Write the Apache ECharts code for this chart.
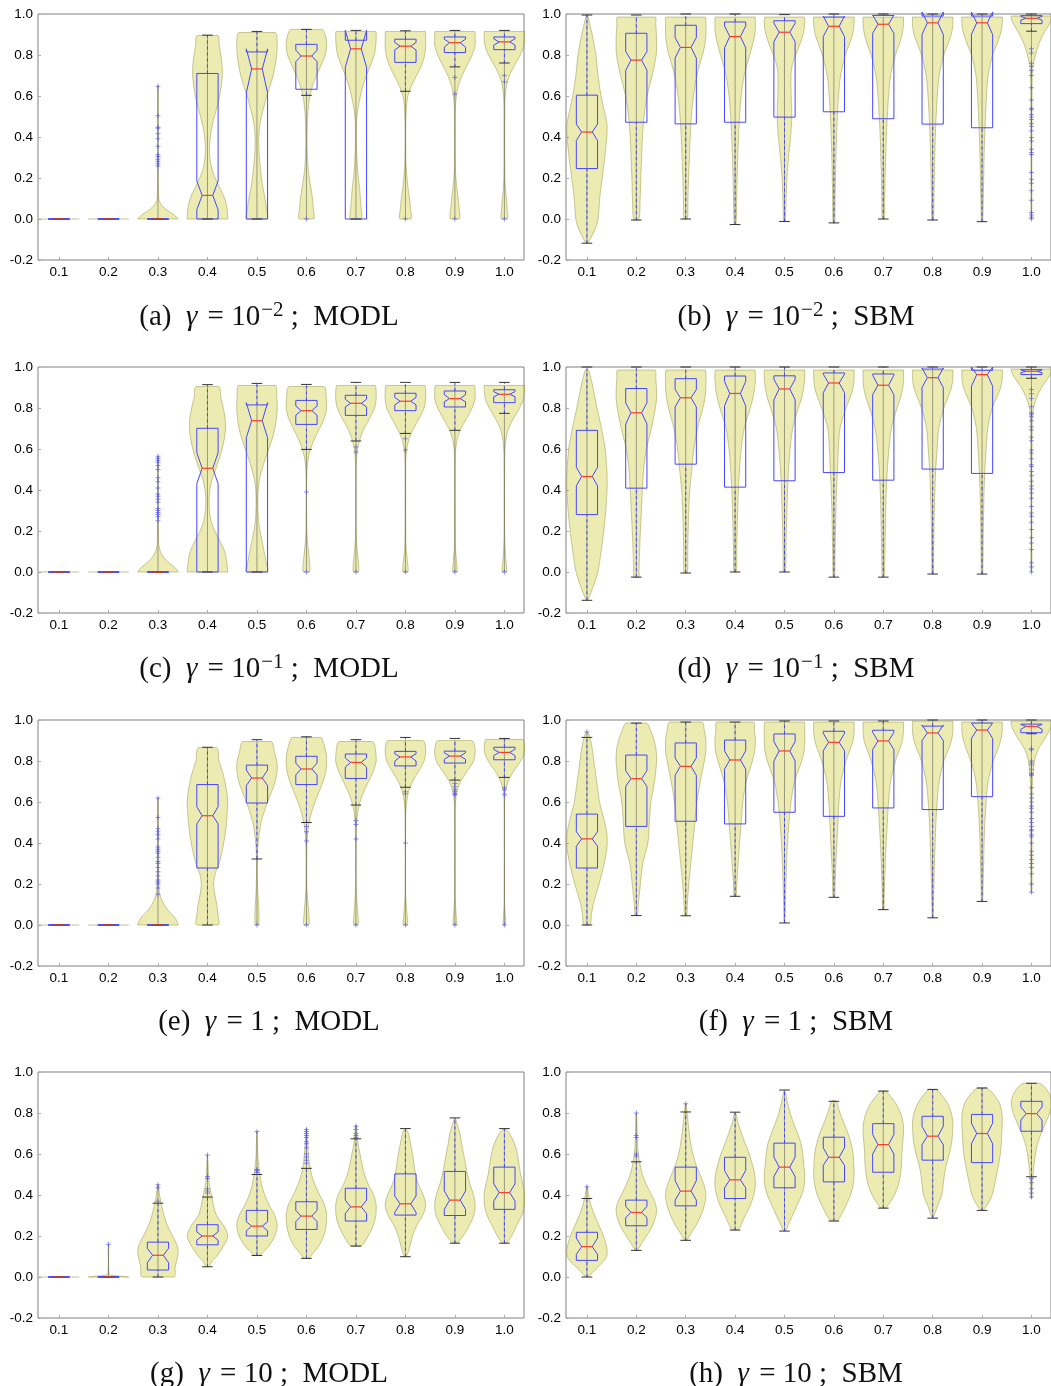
<!DOCTYPE html>
<html><head><meta charset="utf-8">
<script src="https://cdn.jsdelivr.net/npm/echarts@6/dist/echarts.min.js"></script>
<style>html,body{margin:0;padding:0;background:#fff}#c{width:1051px;height:1386px}</style>
</head><body><div id="c"></div>
<script>
// ---------- data ----------
const categories = ['0.1','0.2','0.3','0.4','0.5','0.6','0.7','0.8','0.9','1.0'];
const positions = [1,2,3,4,5,6,7,8,9,10];
const captions = [
  '(a)  {it|γ} = 10{sup|−2} ;  MODL', '(b)  {it|γ} = 10{sup|−2} ;  SBM',
  '(c)  {it|γ} = 10{sup|−1} ;  MODL', '(d)  {it|γ} = 10{sup|−1} ;  SBM',
  '(e)  {it|γ} = 1 ;  MODL', '(f)  {it|γ} = 1 ;  SBM',
  '(g)  {it|γ} = 10 ;  MODL', '(h)  {it|γ} = 10 ;  SBM'
];
// violin profiles: flat [y, relativeHalfWidth, ...]
const violinsA = [
  [0,1],[0,1],
  [0,1, 0.02,0.8, 0.04,0.5, 0.06,0.25, 0.08,0.1, 0.1,0.04, 0.15,0.02, 0.3,0.015, 0.5,0.01, 0.65,0.01],
  [0,1, 0.05,0.97, 0.1,0.85, 0.15,0.62, 0.2,0.38, 0.25,0.2, 0.3,0.12, 0.35,0.1, 0.4,0.14, 0.45,0.22, 0.5,0.34, 0.55,0.48, 0.6,0.6, 0.65,0.68, 0.7,0.73, 0.75,0.72, 0.8,0.66, 0.85,0.58, 0.895,0.5],
  [0,0.5, 0.05,0.47, 0.1,0.4, 0.15,0.3, 0.2,0.22, 0.25,0.17, 0.3,0.12, 0.35,0.09, 0.4,0.09, 0.45,0.13, 0.5,0.22, 0.55,0.35, 0.6,0.48, 0.65,0.65, 0.7,0.8, 0.75,0.9, 0.8,0.97, 0.85,1.0, 0.91,0.9],
  [0,0.35, 0.05,0.34, 0.1,0.3, 0.15,0.22, 0.2,0.14, 0.25,0.08, 0.3,0.05, 0.4,0.03, 0.5,0.06, 0.55,0.1, 0.6,0.17, 0.65,0.3, 0.7,0.5, 0.75,0.72, 0.8,0.93, 0.85,1.0, 0.9,0.92, 0.925,0.76],
  [0,0.27, 0.05,0.26, 0.1,0.22, 0.15,0.18, 0.2,0.12, 0.25,0.08, 0.3,0.05, 0.4,0.02, 0.5,0.05, 0.55,0.12, 0.6,0.22, 0.65,0.35, 0.7,0.52, 0.75,0.72, 0.8,0.9, 0.85,0.98, 0.9,1.0, 0.915,0.98],
  [0,0.27, 0.05,0.25, 0.1,0.2, 0.15,0.13, 0.2,0.08, 0.25,0.04, 0.3,0.02, 0.45,0.015, 0.55,0.05, 0.6,0.12, 0.65,0.3, 0.7,0.55, 0.75,0.8, 0.8,0.95, 0.85,1.0, 0.915,0.98],
  [0,0.22, 0.05,0.21, 0.1,0.16, 0.15,0.1, 0.2,0.05, 0.25,0.025, 0.3,0.015, 0.5,0.015, 0.55,0.03, 0.6,0.07, 0.65,0.17, 0.7,0.35, 0.75,0.6, 0.8,0.85, 0.85,1.0, 0.915,0.98],
  [0,0.15, 0.05,0.14, 0.1,0.1, 0.15,0.05, 0.2,0.025, 0.3,0.015, 0.5,0.015, 0.55,0.02, 0.6,0.04, 0.65,0.1, 0.7,0.25, 0.75,0.5, 0.8,0.78, 0.85,0.97, 0.915,1.0]
];
// boxes: [whiskerLow, q1, notchLow, median, notchHigh, q3, whiskerHigh]
const boxesA = [
  [0,0,0,0,0,0,0],[0,0,0,0,0,0,0],[0,0,0,0,0,0,0],
  [0,0,0.045,0.115,0.185,0.71,0.897],
  [0,0,0.615,0.732,0.83,0.815,0.915],
  [0.603,0.633,0.767,0.795,0.824,0.852,0.925],
  [0,0,0.74,0.83,0.92,0.872,0.92],
  [0.623,0.764,0.825,0.843,0.861,0.877,0.918],
  [0.742,0.812,0.838,0.86,0.877,0.888,0.92],
  [0.761,0.826,0.848,0.864,0.879,0.888,0.92]
];
const fliersA = [
  [],[],
  [0.647,0.504,0.448,0.443,0.416,0.391,0.355,0.313,0.305,0.292,0.282,0.269,0.259],
  [],[],[0],[],[0],[0.69,0.61,0],[0.70,0.67,0]
];

const violinsB = [
  [-0.12,0.02, -0.1,0.15, -0.05,0.4, 0,0.55, 0.1,0.63, 0.2,0.75, 0.3,0.88, 0.4,0.98, 0.45,1.0, 0.5,0.92, 0.6,0.7, 0.7,0.55, 0.8,0.44, 0.9,0.26, 0.95,0.14, 0.995,0.03],
  [-0.005,0.12, 0.1,0.19, 0.2,0.22, 0.3,0.26, 0.4,0.3, 0.5,0.38, 0.6,0.53, 0.7,0.78, 0.8,0.98, 0.85,1.0, 0.9,0.99, 0.95,0.96, 0.985,0.93],
  [0,0.08, 0.1,0.11, 0.2,0.14, 0.3,0.18, 0.4,0.22, 0.5,0.28, 0.6,0.38, 0.7,0.55, 0.75,0.68, 0.8,0.83, 0.85,0.94, 0.9,1.0, 0.95,1.0, 0.985,0.97],
  [-0.027,0.03, 0,0.06, 0.1,0.08, 0.2,0.1, 0.3,0.13, 0.4,0.17, 0.5,0.22, 0.6,0.3, 0.7,0.45, 0.8,0.72, 0.85,0.86, 0.9,0.97, 0.95,1.0, 0.985,0.98],
  [-0.012,0.03, 0,0.05, 0.1,0.08, 0.2,0.12, 0.3,0.2, 0.4,0.3, 0.5,0.36, 0.6,0.33, 0.7,0.32, 0.75,0.38, 0.8,0.55, 0.85,0.75, 0.9,0.92, 0.95,1.0, 0.985,0.98],
  [-0.02,0.03, 0,0.05, 0.1,0.06, 0.2,0.08, 0.3,0.1, 0.4,0.13, 0.5,0.17, 0.6,0.23, 0.7,0.33, 0.8,0.57, 0.85,0.75, 0.9,0.92, 0.95,1.0, 0.985,1.0],
  [0,0.05, 0.1,0.07, 0.2,0.09, 0.3,0.12, 0.4,0.15, 0.5,0.2, 0.6,0.26, 0.7,0.36, 0.8,0.6, 0.85,0.78, 0.9,0.93, 0.95,1.0, 0.985,1.0],
  [-0.005,0.04, 0.1,0.06, 0.2,0.08, 0.3,0.1, 0.4,0.13, 0.5,0.17, 0.6,0.23, 0.7,0.32, 0.8,0.55, 0.85,0.74, 0.9,0.92, 0.95,1.0, 0.985,1.0],
  [-0.013,0.03, 0,0.04, 0.1,0.06, 0.2,0.08, 0.3,0.1, 0.4,0.13, 0.5,0.17, 0.6,0.22, 0.7,0.3, 0.8,0.52, 0.85,0.72, 0.9,0.9, 0.95,1.0, 0.985,1.0],
  [0,0.02, 0.2,0.02, 0.4,0.025, 0.6,0.03, 0.7,0.04, 0.75,0.08, 0.8,0.2, 0.85,0.35, 0.9,0.58, 0.95,0.88, 0.98,1.0, 0.99,1.0]
];
const boxesB = [
  [-0.118,0.246,0.383,0.424,0.463,0.604,0.995],
  [-0.005,0.472,0.725,0.775,0.817,0.906,0.995],
  [0,0.464,0.785,0.837,0.885,0.945,1.0],
  [-0.027,0.472,0.835,0.89,0.942,0.961,1.0],
  [-0.012,0.497,0.865,0.911,0.955,0.967,0.997],
  [-0.019,0.523,0.89,0.94,0.99,0.985,1.0],
  [0,0.489,0.906,0.95,0.995,0.993,1.0],
  [-0.005,0.463,0.9,0.957,1.01,0.99,1.0],
  [-0.013,0.445,0.9,0.957,1.01,0.99,1.0],
  [0.916,0.953,0.97,0.979,0.988,0.992,1.0]
];
const fliersB = [
  [],[],[],[],[],[],[],[],[],
  [0.83,0.81,0.76,0.745,0.725,0.70,0.64,0.58,0.54,0.534,0.51,0.498,0.485,0.466,0.453,0.43,0.397,0.38,0.34,0.324,0.315,0.227,0.194,0.175,0.138,0.092,0.032,0.019,0.008,0]
];

const violinsC = [
  [0,1],[0,1],
  [0,1, 0.02,0.85, 0.04,0.6, 0.06,0.38, 0.08,0.22, 0.1,0.12, 0.12,0.06, 0.15,0.03, 0.3,0.02, 0.45,0.015, 0.565,0.01],
  [0,1, 0.05,0.95, 0.1,0.85, 0.15,0.62, 0.2,0.36, 0.25,0.18, 0.3,0.1, 0.35,0.08, 0.4,0.12, 0.45,0.22, 0.5,0.4, 0.55,0.57, 0.6,0.72, 0.65,0.83, 0.7,0.89, 0.75,0.87, 0.8,0.78, 0.85,0.66, 0.905,0.55],
  [0,0.5, 0.05,0.45, 0.1,0.35, 0.15,0.25, 0.2,0.15, 0.25,0.08, 0.3,0.05, 0.35,0.04, 0.4,0.06, 0.45,0.12, 0.5,0.25, 0.55,0.4, 0.6,0.58, 0.65,0.75, 0.7,0.88, 0.75,0.96, 0.8,1.0, 0.85,0.98, 0.91,0.92],
  [0,0.15, 0.05,0.15, 0.1,0.1, 0.15,0.05, 0.2,0.02, 0.3,0.01, 0.45,0.01, 0.5,0.03, 0.55,0.08, 0.6,0.2, 0.65,0.4, 0.7,0.65, 0.75,0.88, 0.8,1.0, 0.85,0.98, 0.905,0.85],
  [0,0.12, 0.05,0.12, 0.1,0.07, 0.15,0.03, 0.2,0.01, 0.5,0.01, 0.55,0.03, 0.6,0.08, 0.65,0.2, 0.7,0.4, 0.75,0.68, 0.8,0.92, 0.85,1.0, 0.91,0.95],
  [0,0.12, 0.05,0.1, 0.1,0.05, 0.15,0.02, 0.5,0.01, 0.55,0.02, 0.6,0.06, 0.65,0.18, 0.7,0.4, 0.75,0.68, 0.8,0.92, 0.85,1.0, 0.91,0.96],
  [0,0.1, 0.05,0.08, 0.1,0.04, 0.15,0.02, 0.55,0.015, 0.6,0.04, 0.65,0.12, 0.7,0.3, 0.75,0.58, 0.8,0.85, 0.85,1.0, 0.91,0.96],
  [0,0.1, 0.05,0.08, 0.1,0.04, 0.2,0.01, 0.55,0.015, 0.6,0.03, 0.65,0.08, 0.7,0.2, 0.75,0.45, 0.8,0.75, 0.85,0.95, 0.91,1.0]
];
const boxesC = [
  [0,0,0,0,0,0,0],[0,0,0,0,0,0,0],[0,0,0,0,0,0,0],
  [0,0,0.431,0.506,0.582,0.701,0.914],
  [0,0,0.655,0.738,0.826,0.815,0.92],
  [0.598,0.72,0.765,0.787,0.81,0.837,0.915],
  [0.639,0.764,0.805,0.823,0.843,0.862,0.925],
  [0.676,0.787,0.815,0.833,0.852,0.872,0.925],
  [0.691,0.805,0.83,0.846,0.865,0.883,0.925],
  [0.774,0.826,0.855,0.867,0.88,0.889,0.925]
];
const fliersC = [
  [],[],
  [0.565,0.555,0.545,0.535,0.52,0.5,0.46,0.44,0.41,0.38,0.37,0.355,0.34,0.31,0.3,0.29,0.28,0.27,0.25],
  [],[],[0.39,0],[0.61,0.585,0],[0.65,0.595,0],[0],[0]
];

const violinsD = [
  [-0.14,0.02, -0.1,0.2, -0.05,0.38, 0,0.54, 0.1,0.7, 0.2,0.83, 0.3,0.93, 0.4,0.99, 0.45,1.0, 0.5,0.98, 0.6,0.9, 0.7,0.72, 0.8,0.5, 0.9,0.3, 0.95,0.18, 0.985,0.07],
  [-0.025,0.12, 0,0.13, 0.1,0.16, 0.2,0.2, 0.3,0.25, 0.4,0.3, 0.5,0.36, 0.6,0.5, 0.7,0.74, 0.8,0.94, 0.85,1.0, 0.9,0.99, 0.95,0.96, 0.985,0.93],
  [-0.005,0.08, 0.1,0.1, 0.2,0.12, 0.3,0.15, 0.4,0.2, 0.5,0.3, 0.6,0.4, 0.7,0.58, 0.8,0.85, 0.85,0.95, 0.9,1.0, 0.95,1.0, 0.985,0.97],
  [0,0.06, 0.1,0.08, 0.2,0.1, 0.3,0.13, 0.4,0.16, 0.5,0.22, 0.6,0.3, 0.7,0.45, 0.8,0.75, 0.85,0.88, 0.9,0.97, 0.95,1.0, 0.985,0.98],
  [0,0.05, 0.1,0.07, 0.2,0.09, 0.3,0.12, 0.4,0.15, 0.5,0.2, 0.6,0.28, 0.7,0.4, 0.8,0.68, 0.85,0.85, 0.9,0.95, 0.95,1.0, 0.985,1.0],
  [-0.025,0.03, 0,0.05, 0.1,0.06, 0.2,0.08, 0.3,0.1, 0.4,0.13, 0.5,0.18, 0.6,0.22, 0.7,0.3, 0.8,0.6, 0.85,0.8, 0.9,0.95, 0.95,1.0, 0.985,1.0],
  [-0.025,0.03, 0,0.06, 0.1,0.08, 0.2,0.1, 0.3,0.12, 0.4,0.15, 0.5,0.2, 0.6,0.28, 0.7,0.4, 0.8,0.68, 0.85,0.85, 0.9,0.97, 0.95,1.0, 0.985,1.0],
  [-0.01,0.03, 0,0.04, 0.1,0.05, 0.2,0.06, 0.3,0.08, 0.4,0.11, 0.5,0.15, 0.6,0.22, 0.7,0.3, 0.8,0.55, 0.85,0.75, 0.9,0.93, 0.95,1.0, 0.985,1.0],
  [-0.01,0.03, 0,0.04, 0.1,0.05, 0.2,0.06, 0.3,0.08, 0.4,0.1, 0.5,0.14, 0.6,0.2, 0.7,0.28, 0.8,0.5, 0.85,0.72, 0.9,0.92, 0.95,1.0, 0.985,1.0],
  [0,0.02, 0.2,0.02, 0.4,0.025, 0.6,0.03, 0.7,0.035, 0.75,0.05, 0.8,0.1, 0.85,0.25, 0.9,0.5, 0.95,0.85, 0.98,1.0, 0.99,1.0]
];
const boxesD = [
  [-0.138,0.28,0.42,0.466,0.511,0.691,1.0],
  [-0.025,0.409,0.722,0.777,0.825,0.895,1.0],
  [-0.005,0.526,0.805,0.85,0.89,0.943,1.0],
  [0,0.414,0.81,0.871,0.93,0.956,1.0],
  [0,0.445,0.84,0.893,0.94,0.957,1.0],
  [-0.025,0.485,0.875,0.922,0.965,0.971,1.0],
  [-0.025,0.448,0.865,0.911,0.96,0.966,1.0],
  [-0.01,0.502,0.9,0.948,0.995,0.99,1.0],
  [-0.01,0.481,0.906,0.963,1.0,0.984,1.0],
  [0.945,0.963,0.972,0.979,0.985,0.987,1.0]
];
const fliersD = [
  [],[],[],[],[],[],[],[],[],
  [0.89,0.87,0.846,0.806,0.777,0.77,0.757,0.738,0.709,0.693,0.657,0.64,0.595,0.58,0.552,0.523,0.515,0.49,0.47,0.443,0.42,0.405,0.385,0.36,0.32,0.288,0.272,0.243,0.207,0.167,0.142,0.11,0.045,0.024,0]
];

const violinsE = [
  [0,1],[0,1],
  [0,1, 0.02,0.93, 0.04,0.8, 0.06,0.6, 0.08,0.43, 0.1,0.3, 0.12,0.2, 0.14,0.12, 0.16,0.07, 0.2,0.04, 0.3,0.03, 0.4,0.03, 0.5,0.02, 0.62,0.01],
  [0,0.53, 0.05,0.52, 0.1,0.46, 0.15,0.36, 0.2,0.3, 0.25,0.38, 0.3,0.57, 0.35,0.7, 0.4,0.8, 0.45,0.88, 0.5,0.94, 0.55,0.97, 0.6,1.0, 0.65,0.95, 0.7,0.86, 0.75,0.73, 0.8,0.57, 0.865,0.45],
  [0,0.08, 0.05,0.1, 0.1,0.08, 0.15,0.05, 0.2,0.03, 0.25,0.02, 0.3,0.02, 0.35,0.03, 0.4,0.06, 0.45,0.12, 0.5,0.2, 0.55,0.35, 0.6,0.52, 0.65,0.72, 0.7,0.9, 0.75,0.99, 0.78,1.0, 0.8,0.97, 0.85,0.85, 0.895,0.7],
  [0,0.12, 0.05,0.12, 0.1,0.08, 0.15,0.04, 0.2,0.015, 0.35,0.015, 0.4,0.03, 0.45,0.06, 0.5,0.13, 0.55,0.25, 0.6,0.42, 0.65,0.62, 0.7,0.82, 0.75,0.96, 0.8,1.0, 0.85,0.95, 0.9,0.8, 0.915,0.72],
  [0,0.1, 0.05,0.1, 0.1,0.06, 0.15,0.03, 0.2,0.01, 0.4,0.01, 0.45,0.02, 0.5,0.04, 0.55,0.09, 0.6,0.2, 0.65,0.38, 0.7,0.62, 0.75,0.85, 0.8,1.0, 0.85,0.97, 0.895,0.82],
  [0,0.1, 0.05,0.08, 0.1,0.04, 0.15,0.01, 0.5,0.01, 0.55,0.02, 0.6,0.06, 0.65,0.15, 0.7,0.35, 0.75,0.65, 0.8,0.92, 0.85,1.0, 0.9,0.85],
  [0,0.08, 0.05,0.06, 0.1,0.03, 0.15,0.01, 0.55,0.01, 0.6,0.03, 0.65,0.1, 0.7,0.28, 0.75,0.6, 0.8,0.92, 0.85,1.0, 0.9,0.82],
  [0,0.05, 0.05,0.04, 0.1,0.01, 0.6,0.01, 0.65,0.05, 0.7,0.18, 0.75,0.45, 0.8,0.8, 0.85,1.0, 0.9,0.95, 0.905,0.92]
];
const boxesE = [
  [0,0,0,0,0,0,0],[0,0,0,0,0,0,0],[0,0,0,0,0,0,0],
  [0,0.278,0.493,0.533,0.577,0.685,0.867],
  [0.322,0.595,0.68,0.717,0.756,0.78,0.904],
  [0.5,0.685,0.732,0.761,0.79,0.823,0.918],
  [0.585,0.715,0.77,0.793,0.815,0.834,0.904],
  [0.672,0.776,0.8,0.82,0.835,0.847,0.915],
  [0.707,0.79,0.808,0.824,0.84,0.848,0.91],
  [0.72,0.806,0.826,0.842,0.857,0.867,0.91]
];
const fliersE = [
  [],[],
  [0.62,0.525,0.47,0.455,0.44,0.42,0.38,0.37,0.36,0.35,0.33,0.31,0.3,0.28,0.26,0.24,0.22,0.21,0.2,0.18,0.15],
  [],[0],[0.48,0.455,0.41,0],[0.51,0.49,0.42,0],[0.65,0.64,0.4,0],[0.69,0.675,0.66,0.65,0.64,0.635,0],[0.67,0.66,0.635,0]
];

const violinsF = [
  [0,0.15, 0.05,0.22, 0.1,0.31, 0.15,0.45, 0.2,0.6, 0.25,0.73, 0.3,0.85, 0.35,0.95, 0.4,1.0, 0.45,0.98, 0.5,0.88, 0.55,0.75, 0.6,0.62, 0.65,0.55, 0.7,0.48, 0.75,0.41, 0.8,0.34, 0.85,0.28, 0.9,0.18, 0.94,0.05],
  [0.046,0.05, 0.1,0.1, 0.2,0.2, 0.3,0.32, 0.35,0.45, 0.4,0.57, 0.45,0.62, 0.5,0.64, 0.6,0.72, 0.7,0.9, 0.8,1.0, 0.85,0.98, 0.9,0.88, 0.95,0.7, 0.985,0.5],
  [0.045,0.05, 0.1,0.08, 0.2,0.15, 0.3,0.25, 0.4,0.35, 0.5,0.45, 0.6,0.55, 0.7,0.72, 0.8,0.92, 0.85,1.0, 0.9,1.0, 0.95,0.92, 0.99,0.8],
  [0.14,0.05, 0.2,0.08, 0.3,0.15, 0.4,0.22, 0.5,0.3, 0.6,0.38, 0.7,0.55, 0.8,0.85, 0.85,0.97, 0.9,1.0, 0.95,0.95, 0.99,0.9],
  [0.01,0.02, 0.1,0.04, 0.2,0.07, 0.3,0.1, 0.4,0.15, 0.5,0.22, 0.6,0.32, 0.7,0.5, 0.8,0.85, 0.85,0.97, 0.9,1.0, 0.95,1.0, 0.99,0.98],
  [0.135,0.04, 0.2,0.06, 0.3,0.1, 0.4,0.15, 0.5,0.2, 0.6,0.25, 0.7,0.35, 0.8,0.6, 0.85,0.78, 0.9,0.95, 0.95,1.0, 0.99,1.0],
  [0.075,0.03, 0.2,0.06, 0.3,0.1, 0.4,0.14, 0.5,0.2, 0.6,0.26, 0.7,0.36, 0.8,0.6, 0.85,0.78, 0.9,0.95, 0.95,1.0, 0.99,1.0],
  [0.035,0.02, 0.1,0.04, 0.2,0.06, 0.3,0.09, 0.4,0.12, 0.5,0.16, 0.6,0.22, 0.7,0.32, 0.8,0.55, 0.85,0.75, 0.9,0.93, 0.95,1.0, 0.995,1.0],
  [0.115,0.03, 0.2,0.05, 0.3,0.08, 0.4,0.1, 0.5,0.14, 0.6,0.2, 0.7,0.3, 0.8,0.55, 0.85,0.75, 0.9,0.92, 0.95,1.0, 0.99,1.0],
  [0.16,0.02, 0.3,0.03, 0.6,0.03, 0.7,0.05, 0.8,0.15, 0.85,0.3, 0.9,0.6, 0.95,0.9, 0.98,1.0, 0.995,1.0]
];
const boxesF = [
  [0,0.278,0.384,0.42,0.455,0.541,0.915],
  [0.046,0.481,0.676,0.714,0.753,0.829,0.985],
  [0.045,0.506,0.73,0.774,0.815,0.888,0.99],
  [0.14,0.493,0.76,0.805,0.85,0.902,0.99],
  [0.01,0.55,0.8,0.849,0.895,0.932,0.995],
  [0.135,0.53,0.85,0.891,0.935,0.945,0.995],
  [0.075,0.571,0.855,0.898,0.94,0.95,0.995],
  [0.035,0.563,0.9,0.937,0.975,0.97,1.0],
  [0.115,0.626,0.91,0.951,0.985,0.985,1.0],
  [0.933,0.938,0.955,0.969,0.978,0.98,1.0]
];
const fliersF = [
  [0.943],[],[],[],[],[],[],[],[],
  [0.86,0.855,0.8,0.79,0.78,0.76,0.74,0.735,0.73,0.67,0.64,0.62,0.6,0.58,0.57,0.55,0.52,0.5,0.48,0.465,0.46,0.44,0.43,0.4,0.36,0.34,0.32,0.3,0.28,0.25,0.2,0.16]
];

const violinsG = [
  [0,1],
  [0,1, 0.004,0.6, 0.008,0.2, 0.015,0.03, 0.16,0.01],
  [0,0.78, 0.05,0.85, 0.1,0.97, 0.13,1.0, 0.16,0.92, 0.2,0.72, 0.25,0.47, 0.3,0.3, 0.35,0.18, 0.4,0.08, 0.45,0.02],
  [0.05,0.05, 0.08,0.25, 0.1,0.45, 0.15,0.78, 0.2,1.0, 0.25,0.8, 0.3,0.45, 0.35,0.3, 0.4,0.2, 0.45,0.1, 0.5,0.05, 0.595,0.01],
  [0.105,0.1, 0.13,0.4, 0.16,0.65, 0.2,0.88, 0.25,1.0, 0.3,0.88, 0.35,0.6, 0.4,0.38, 0.45,0.23, 0.5,0.14, 0.55,0.08, 0.6,0.04, 0.71,0.01],
  [0.09,0.1, 0.12,0.35, 0.15,0.6, 0.2,0.85, 0.25,0.97, 0.3,1.0, 0.35,0.9, 0.4,0.65, 0.45,0.42, 0.5,0.25, 0.55,0.15, 0.6,0.1, 0.65,0.06, 0.7,0.03, 0.725,0.01],
  [0.15,0.25, 0.2,0.6, 0.25,0.85, 0.3,0.98, 0.35,1.0, 0.4,0.88, 0.45,0.62, 0.5,0.42, 0.55,0.3, 0.6,0.2, 0.65,0.1, 0.7,0.05, 0.74,0.02],
  [0.1,0.05, 0.15,0.22, 0.2,0.35, 0.25,0.55, 0.3,0.85, 0.35,1.0, 0.4,0.88, 0.45,0.65, 0.5,0.5, 0.55,0.42, 0.6,0.35, 0.65,0.25, 0.7,0.15, 0.72,0.03],
  [0.165,0.08, 0.2,0.4, 0.25,0.7, 0.3,0.93, 0.35,1.0, 0.4,0.92, 0.45,0.75, 0.5,0.62, 0.55,0.52, 0.6,0.43, 0.65,0.33, 0.7,0.25, 0.75,0.1, 0.775,0.02],
  [0.165,0.08, 0.2,0.35, 0.25,0.6, 0.3,0.85, 0.35,0.98, 0.4,1.0, 0.45,0.92, 0.5,0.8, 0.55,0.72, 0.6,0.64, 0.65,0.5, 0.7,0.25, 0.72,0.08]
];
const boxesG = [
  [0,0,0,0,0,0,0],[0,0,0,0,0,0,0],
  [0,0.034,0.07,0.106,0.14,0.17,0.36],
  [0.05,0.157,0.18,0.2,0.22,0.255,0.39],
  [0.105,0.2,0.225,0.248,0.27,0.325,0.5],
  [0.091,0.232,0.27,0.297,0.325,0.367,0.53],
  [0.151,0.273,0.31,0.342,0.375,0.433,0.674],
  [0.099,0.302,0.315,0.357,0.395,0.503,0.724],
  [0.165,0.3,0.33,0.375,0.42,0.515,0.776],
  [0.165,0.33,0.37,0.412,0.455,0.536,0.724]
];
const fliersG = [
  [],[0.16],[0.45,0.435,0.37],[0.595,0.49,0.48,0.43,0.42,0.41],[0.71,0.525,0.52,0.51],
  [0.72,0.71,0.7,0.69,0.68,0.66,0.65,0.63,0.6,0.585,0.57,0.555],
  [0.735,0.72,0.7,0.69,0.68],[],[],[]
];

const violinsH = [
  [0,0.05, 0.03,0.35, 0.05,0.55, 0.08,0.85, 0.1,0.97, 0.13,1.0, 0.15,0.97, 0.2,0.82, 0.25,0.6, 0.3,0.38, 0.35,0.2, 0.4,0.08, 0.44,0.02],
  [0.13,0.05, 0.17,0.3, 0.2,0.5, 0.25,0.8, 0.3,0.97, 0.33,1.0, 0.37,0.9, 0.4,0.75, 0.45,0.5, 0.5,0.3, 0.55,0.18, 0.6,0.1, 0.65,0.06, 0.7,0.04, 0.8,0.01],
  [0.18,0.05, 0.22,0.3, 0.25,0.5, 0.3,0.75, 0.35,0.92, 0.4,1.0, 0.45,0.9, 0.5,0.7, 0.55,0.5, 0.6,0.35, 0.65,0.25, 0.7,0.18, 0.75,0.12, 0.8,0.07, 0.845,0.02],
  [0.23,0.15, 0.3,0.5, 0.35,0.75, 0.4,0.92, 0.45,1.0, 0.5,0.97, 0.55,0.85, 0.6,0.7, 0.65,0.5, 0.7,0.32, 0.75,0.15, 0.8,0.03],
  [0.225,0.05, 0.27,0.25, 0.3,0.4, 0.35,0.62, 0.4,0.85, 0.45,0.98, 0.5,1.0, 0.55,0.95, 0.6,0.9, 0.65,0.82, 0.7,0.65, 0.75,0.45, 0.8,0.28, 0.85,0.15, 0.91,0.02],
  [0.275,0.15, 0.3,0.35, 0.35,0.6, 0.4,0.82, 0.45,0.95, 0.5,1.0, 0.55,0.98, 0.6,0.95, 0.65,0.85, 0.7,0.7, 0.75,0.5, 0.8,0.3, 0.86,0.1],
  [0.336,0.1, 0.36,0.3, 0.4,0.55, 0.45,0.75, 0.5,0.85, 0.55,0.9, 0.6,0.92, 0.65,0.95, 0.7,1.0, 0.75,0.98, 0.8,0.85, 0.85,0.6, 0.9,0.2, 0.907,0.15],
  [0.29,0.03, 0.35,0.25, 0.4,0.45, 0.45,0.52, 0.5,0.58, 0.55,0.68, 0.6,0.82, 0.65,0.93, 0.7,0.98, 0.75,1.0, 0.8,0.92, 0.85,0.72, 0.9,0.35, 0.915,0.15],
  [0.325,0.05, 0.36,0.3, 0.4,0.5, 0.45,0.62, 0.5,0.72, 0.55,0.82, 0.6,0.9, 0.65,0.95, 0.7,0.97, 0.75,1.0, 0.8,0.98, 0.85,0.85, 0.9,0.5, 0.922,0.2],
  [0.385,0.02, 0.45,0.04, 0.5,0.08, 0.55,0.13, 0.6,0.2, 0.65,0.3, 0.7,0.48, 0.75,0.7, 0.8,0.9, 0.85,1.0, 0.9,0.85, 0.945,0.4]
];
const boxesH = [
  [0,0.081,0.11,0.148,0.19,0.218,0.383],
  [0.13,0.25,0.29,0.315,0.345,0.375,0.562],
  [0.179,0.347,0.375,0.419,0.47,0.536,0.805],
  [0.229,0.383,0.435,0.474,0.52,0.584,0.804],
  [0.224,0.435,0.49,0.536,0.585,0.653,0.912],
  [0.273,0.464,0.545,0.584,0.63,0.682,0.857],
  [0.336,0.511,0.6,0.646,0.695,0.748,0.907],
  [0.287,0.57,0.645,0.687,0.735,0.784,0.915],
  [0.325,0.558,0.65,0.7,0.75,0.793,0.922],
  [0.489,0.711,0.765,0.797,0.83,0.857,0.945]
];
const fliersH = [
  [0.44],[0.8,0.69,0.68,0.6,0.59],[0.845],[],[],[],[],[],[],[0.48,0.46,0.43,0.41,0.39]
];

// ---------- rendering ----------
const panels = [
  [violinsA, boxesA, fliersA], [violinsB, boxesB, fliersB],
  [violinsC, boxesC, fliersC], [violinsD, boxesD, fliersD],
  [violinsE, boxesE, fliersE], [violinsF, boxesF, fliersF],
  [violinsG, boxesG, fliersG], [violinsH, boxesH, fliersH]
];
const HW = 0.41;   // violin max half width (x units)
const HB = 0.215;  // box half width
const VIOLIN_FILL = 'rgba(191,191,0,0.3)';
const VIOLIN_EDGE = 'rgba(150,150,70,0.5)';
const BLUE = '#4646ff';
const PLUS = 'path://M4,0H6V4H10V6H6V10H4V6H0V4H4Z';
const gridLeft = [38, 566];
const gridTop = [14, 367, 720, 1072];
const capX = [264, 791];
const capY = [313, 665, 1018, 1370];

function seg(a, b, style) {
  return { type: 'line', shape: { x1: a[0], y1: a[1], x2: b[0], y2: b[1] }, style: style };
}

function renderViolin(prof, x, api) {
  if (prof.length === 2) {
    return seg(api.coord([x - HW, prof[0]]), api.coord([x + HW, prof[0]]),
      { stroke: 'rgba(140,140,100,0.55)', lineWidth: 1.2 });
  }
  const L = [], R = [];
  for (let j = 0; j < prof.length; j += 2) {
    L.push(api.coord([x - prof[j + 1] * HW, prof[j]]));
    R.push(api.coord([x + prof[j + 1] * HW, prof[j]]));
  }
  const pts = L.concat(R.reverse());
  let x0 = Infinity, y0 = Infinity, x1 = -Infinity, y1 = -Infinity;
  pts.forEach(p => { x0 = Math.min(x0, p[0]); y0 = Math.min(y0, p[1]); x1 = Math.max(x1, p[0]); y1 = Math.max(y1, p[1]); });
  return {
    type: 'polygon',
    shape: { points: pts, smooth: 0.3, smoothConstraint: [[x0, y0], [x1, y1]] },
    style: { fill: VIOLIN_FILL, stroke: VIOLIN_EDGE, lineWidth: 1 }
  };
}

function renderBox(b, prof, x, api) {
  const wlo = b[0], q1 = b[1], nlo = b[2], med = b[3], nhi = b[4], q3 = b[5], whi = b[6];
  const c = (dx, y) => api.coord([x + dx, y]);
  const ys = prof.filter((_, j) => j % 2 === 0);
  const vmin = Math.min.apply(null, ys), vmax = Math.max.apply(null, ys);
  const ch = [];
  if (vmax > vmin) ch.push(seg(c(0, vmin), c(0, vmax), { stroke: 'rgba(85,85,85,0.55)', lineWidth: 1 }));
  const dash = { stroke: BLUE, lineWidth: 1, lineDash: [3, 3] };
  if (whi > q3) ch.push(seg(c(0, q3), c(0, whi), dash));
  if (q1 > wlo) ch.push(seg(c(0, wlo), c(0, q1), dash));
  ch.push({
    type: 'polygon',
    shape: { points: [c(-HB, q1), c(HB, q1), c(HB, nlo), c(HB / 2, med), c(HB, nhi), c(HB, q3),
                      c(-HB, q3), c(-HB, nhi), c(-HB / 2, med), c(-HB, nlo)] },
    style: { fill: 'none', stroke: BLUE, lineWidth: 1 }
  });
  const capStyle = { stroke: '#333', lineWidth: 1 };
  ch.push(seg(c(-HB / 2, whi), c(HB / 2, whi), capStyle));
  ch.push(seg(c(-HB / 2, wlo), c(HB / 2, wlo), capStyle));
  ch.push(seg(c(-HB / 2, med), c(HB / 2, med), { stroke: '#ff3a2a', lineWidth: 1.2 }));
  return { type: 'group', children: ch };
}

const option = { animation: false, backgroundColor: '#fff', title: [], grid: [], xAxis: [], yAxis: [], series: [] };
const labelFont = { fontFamily: 'Liberation Sans, Arial, sans-serif', fontSize: 13.5, color: '#000' };

panels.forEach((pd, k) => {
  const col = k % 2, row = Math.floor(k / 2);
  const [vio, box, fl] = pd;
  option.grid.push({ left: gridLeft[col], top: gridTop[row], width: 486, height: 246,
    show: true, borderColor: '#808080', borderWidth: 1, backgroundColor: 'transparent' });
  option.xAxis.push({
    gridIndex: k, type: 'value', min: 0.576, max: 10.396, position: 'bottom',
    axisLine: { show: false, onZero: false }, splitLine: { show: false },
    axisTick: { show: true, inside: true, length: 3, customValues: positions, lineStyle: { color: '#aaa' } },
    axisLabel: Object.assign({ customValues: positions, margin: 5,
      formatter: v => categories[Math.round(v) - 1] }, labelFont)
  });
  option.yAxis.push({
    gridIndex: k, type: 'value', min: -0.2, max: 1.0, interval: 0.2, position: 'left',
    axisLine: { show: false, onZero: false }, splitLine: { show: false },
    axisTick: { show: true, inside: true, length: 3, lineStyle: { color: '#aaa' } },
    axisLabel: Object.assign({ margin: 5, formatter: v => v.toFixed(1) }, labelFont)
  });
  option.series.push({
    type: 'custom', xAxisIndex: k, yAxisIndex: k, silent: true, z: 1,
    data: positions.map(p => [p, 0]),
    renderItem: (params, api) => renderViolin(vio[params.dataIndex], positions[params.dataIndex], api)
  });
  option.series.push({
    type: 'custom', xAxisIndex: k, yAxisIndex: k, silent: true, z: 2,
    data: positions.map(p => [p, 0]),
    renderItem: (params, api) => renderBox(box[params.dataIndex], vio[params.dataIndex], positions[params.dataIndex], api)
  });
  const pts = [];
  fl.forEach((arr, i) => arr.forEach(y => pts.push([positions[i], y])));
  option.series.push({
    type: 'scatter', xAxisIndex: k, yAxisIndex: k, silent: true, z: 3,
    symbol: PLUS, symbolSize: 5, itemStyle: { color: '#4a4aff', opacity: 0.6 },
    data: pts
  });
  option.title.push({
    text: captions[k], left: capX[col], top: capY[row] - 18, textAlign: 'center',
    textStyle: {
      fontFamily: 'Liberation Serif, Times New Roman, serif', fontSize: 29, fontWeight: 'normal', color: '#111',
      lineHeight: 34,
      rich: {
        it: { fontFamily: 'Liberation Serif, serif', fontStyle: 'italic', fontSize: 29, lineHeight: 34, padding: [0, 3, 0, 0] },
        sup: { fontFamily: 'Liberation Serif, serif', fontSize: 21, verticalAlign: 'top', lineHeight: 24, padding: [0, 0, 8, 1] }
      }
    }
  });
});

const chart = echarts.init(document.getElementById('c'));
chart.setOption(option);
</script></body></html>
